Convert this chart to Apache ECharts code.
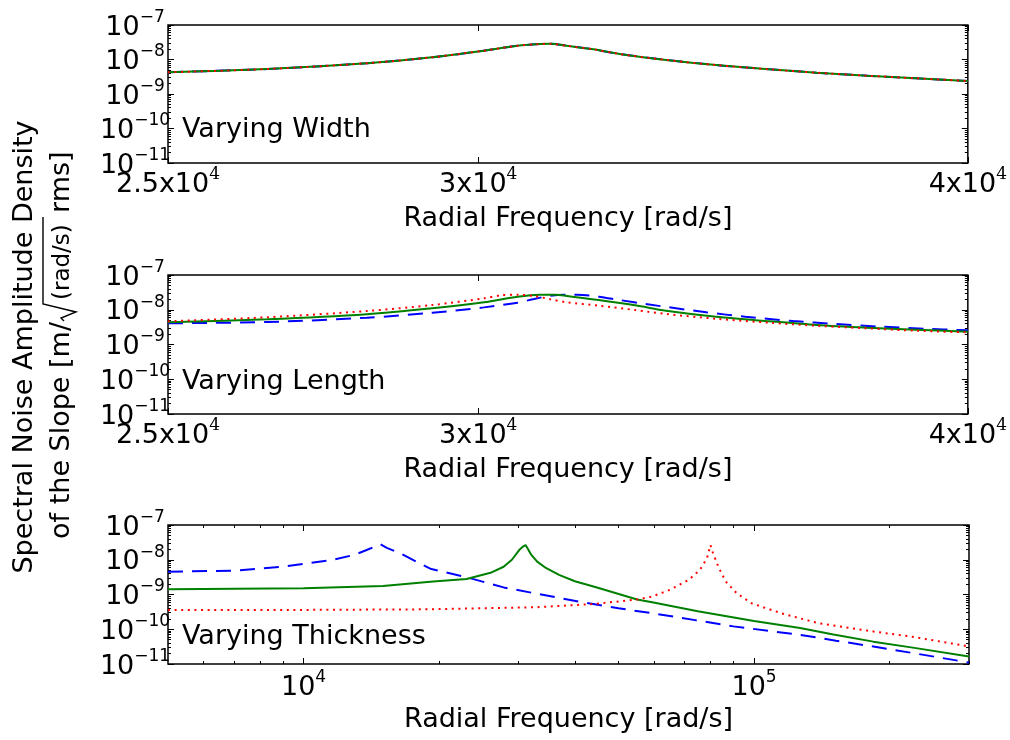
<!DOCTYPE html>
<html><head><meta charset="utf-8">
<script src="https://cdn.jsdelivr.net/npm/echarts@6/dist/echarts.min.js"></script>
<style>html,body{margin:0;padding:0;background:#fff}#c{width:1010px;height:740px}</style>
</head><body><div id="c"></div>
<script>
// ---------------- data ----------------
// Panel 1: Varying Width (three curves nearly identical)
const w_freq  = [25000, 26500, 28100, 29200, 30100, 30700, 31100, 31300, 31600, 32100, 32600, 33500, 34500, 35600, 36600, 37700, 38800, 40000];
const w_blue  = [4.26e-9, 5.3e-9, 7.8e-9, 1.16e-8, 1.8e-8, 2.5e-8, 2.8e-8, 2.85e-8, 2.5e-8, 1.97e-8, 1.44e-8, 9.7e-9, 6.9e-9, 5.2e-9, 4.14e-9, 3.4e-9, 2.85e-9, 2.38e-9];
const w_green = [4.26e-9, 5.3e-9, 7.8e-9, 1.16e-8, 1.8e-8, 2.5e-8, 2.8e-8, 2.85e-8, 2.5e-8, 1.97e-8, 1.44e-8, 9.7e-9, 6.9e-9, 5.2e-9, 4.14e-9, 3.4e-9, 2.85e-9, 2.38e-9];
const w_red   = [4.26e-9, 5.3e-9, 7.8e-9, 1.16e-8, 1.8e-8, 2.5e-8, 2.8e-8, 2.85e-8, 2.5e-8, 1.97e-8, 1.44e-8, 9.7e-9, 6.9e-9, 5.2e-9, 4.14e-9, 3.4e-9, 2.85e-9, 2.38e-9];

// Panel 2: Varying Length
const l_blue_freq  = [25000, 26500, 28100, 29200, 30100, 30700, 31000, 31300, 31600, 31800, 32200, 32600, 33100, 34300, 35100, 36100, 37000, 38000, 39000, 40000];
const l_blue       = [4.07e-9, 4.44e-9, 5.9e-9, 8.2e-9, 1.17e-8, 1.6e-8, 2.04e-8, 2.54e-8, 2.71e-8, 2.71e-8, 2.38e-8, 1.9e-8, 1.46e-8, 8.45e-9, 6.3e-9, 4.74e-9, 3.89e-9, 3.26e-9, 2.85e-9, 2.56e-9];
const l_green_freq = [25000, 26500, 28100, 29200, 30100, 30700, 31100, 31400, 31600, 32200, 32900, 33500, 34500, 35600, 36600, 37700, 38800, 40000];
const l_green      = [4.35e-9, 5.3e-9, 7.4e-9, 1.1e-8, 1.64e-8, 2.38e-8, 2.72e-8, 2.7e-8, 2.49e-8, 1.91e-8, 1.34e-8, 9.4e-9, 6.3e-9, 4.65e-9, 3.64e-9, 3.05e-9, 2.67e-9, 2.33e-9];
const l_red_freq   = [25000, 26500, 28100, 29200, 30100, 30400, 30700, 31000, 31300, 31600, 32200, 32900, 33500, 34500, 35600, 36600, 37700, 38800, 40000];
const l_red        = [4.65e-9, 6.07e-9, 9.2e-9, 1.37e-8, 2.13e-8, 2.6e-8, 2.7e-8, 2.49e-8, 2.0e-8, 1.64e-8, 1.31e-8, 9.8e-9, 7.55e-9, 5.5e-9, 4.24e-9, 3.47e-9, 2.92e-9, 2.49e-9, 2.24e-9];

// Panel 3: Varying Thickness
const t_blue_freq  = [5000, 7000, 9000, 11600, 13000, 13800, 14400, 14800, 15300, 16400, 17800, 19200, 23000, 27800, 33000, 40700, 50000, 59400, 74000, 90000, 126500, 152000, 184000, 225000, 300000];
const t_blue       = [4.55e-9, 4.86e-9, 6.34e-9, 9.87e-9, 1.4e-8, 1.91e-8, 2.4e-8, 2.8e-8, 2.2e-8, 1.53e-8, 8.8e-9, 5.4e-9, 3.14e-9, 1.6e-9, 1.05e-9, 6.25e-10, 4.0e-10, 2.9e-10, 1.83e-10, 1.21e-10, 6.9e-11, 4.7e-11, 3.18e-11, 2.07e-11, 1.1e-11];
const t_green_freq = [5000, 10000, 15000, 19400, 23000, 26000, 27800, 29000, 30100, 30700, 31100, 31500, 32000, 33000, 34500, 36900, 40000, 44600, 55000, 59400, 75000, 100000, 126500, 150000, 184000, 225000, 300000];
const t_green      = [1.42e-9, 1.51e-9, 1.77e-9, 2.35e-9, 2.8e-9, 4.2e-9, 6.3e-9, 1.0e-8, 1.9e-8, 2.4e-8, 2.66e-8, 2.0e-8, 1.4e-8, 8.8e-9, 5.8e-9, 3.66e-9, 2.4e-9, 1.62e-9, 7.2e-10, 6.0e-10, 3.3e-10, 1.73e-10, 1.08e-10, 7.1e-11, 4.4e-11, 2.96e-11, 1.64e-11];
const t_red_freq   = [5000, 10000, 19000, 33000, 44600, 55000, 59300, 65000, 71600, 75800, 78600, 80000, 81000, 83300, 86500, 91500, 98700, 114800, 138600, 184300, 222600, 300000];
const t_red        = [3.6e-10, 3.6e-10, 3.75e-10, 4.3e-10, 5.4e-10, 7.2e-10, 8.7e-10, 1.36e-9, 2.63e-9, 5.1e-9, 1.1e-8, 2.66e-8, 1.6e-8, 6.3e-9, 2.36e-9, 1.09e-9, 5.6e-10, 2.9e-10, 1.5e-10, 8.6e-11, 6.2e-11, 3.2e-11];

// Ticks and labels
const yTickValues = [1e-11, 1e-10, 1e-9, 1e-8, 1e-7];
const yTickLabels = ['10^\u221211', '10^\u221210', '10^\u22129', '10^\u22128', '10^\u22127'];
const xTopTickValues = [25000, 30000, 40000];
const xTopTickLabels = ['2.5x10^4', '3x10^4', '4x10^4'];
const xBotTickValues = [10000, 100000];
const xBotTickLabels = ['10^4', '10^5'];
const xBotMinor = [6000, 7000, 8000, 9000, 20000, 30000, 40000, 50000, 60000, 70000, 80000, 90000, 200000, 300000];
const yMinor = [];
[-11, -10, -9, -8].forEach(e => { for (let m = 2; m <= 9; m++) yMinor.push(m * Math.pow(10, e)); });

const panelTitles = ['Varying Width', 'Varying Length', 'Varying Thickness'];
const xName = 'Radial Frequency [rad/s]';

// ---------------- layout / style ----------------
const FONT = 'DejaVu Sans';
const BLACK = '#000';
const FS = 27;
const gridsPos = [{top: 25, height: 138}, {top: 275, height: 139}, {top: 525, height: 139}];
const LEFT = 168, WIDTH = 801;

// keep edge ticks inside the floating-point extent
function nudge(vals, lo, hi) {
  return vals.map(v => v <= lo * 1.000001 ? lo * (1 + 1e-9) : (v >= hi * 0.999999 ? hi * (1 - 1e-9) : v));
}
function richLabel(s, supKey) {
  const i = s.indexOf('^');
  if (i < 0) return '{b|' + s + '}';
  return '{b|' + s.slice(0, i) + '}{' + supKey + '|' + s.slice(i + 1) + '}';
}
function labelFor(values, labels, supKey) {
  return function (v) {
    let best = 0, bd = Infinity;
    values.forEach((t, k) => { const d = Math.abs(Math.log10(t) - Math.log10(v)); if (d < bd) { bd = d; best = k; } });
    return richLabel(labels[best], supKey);
  };
}
const richStyles = {
  b:   {fontFamily: FONT, fontSize: FS, lineHeight: 32, color: BLACK, verticalAlign: 'bottom'},
  sup: {fontFamily: FONT, fontSize: 17, lineHeight: 17, color: BLACK, verticalAlign: 'top'},
  sups:{fontFamily: 'DejaVu Serif', fontSize: 17, lineHeight: 17, color: BLACK, verticalAlign: 'top'}
};

const grid = gridsPos.map(g => ({left: LEFT, width: WIDTH, top: g.top, height: g.height, show: true, borderColor: BLACK, borderWidth: 1.5, backgroundColor: 'transparent'}));

const xAxis = [], yAxis = [];
function baseAxis(gi, min, max, position, ticks, len, labelCfg) {
  return {
    type: 'log', logBase: 10, gridIndex: gi, min: min, max: max, position: position,
    axisLine: {show: false},
    axisTick: ticks && ticks.length ? {show: true, inside: true, length: len, customValues: nudge(ticks, min, max), lineStyle: {color: BLACK, width: 1}} : {show: false},
    minorTick: {show: false},
    splitLine: {show: false},
    axisLabel: labelCfg || {show: false},
    axisPointer: {show: false}
  };
}
for (let gi = 0; gi < 3; gi++) {
  const isBot = gi === 2;
  const xmin = isBot ? 5000 : 25000, xmax = isBot ? 300000 : 40000;
  const xMajor = isBot ? xBotTickValues : xTopTickValues;
  const xLabels = isBot ? xBotTickLabels : xTopTickLabels;
  const xMin = isBot ? xBotMinor : [];
  const mainX = baseAxis(gi, xmin, xmax, 'bottom', xMajor, 6, {
    show: true, customValues: nudge(xMajor, xmin, xmax), margin: isBot ? 5 : 3,
    showMinLabel: true, showMaxLabel: true, hideOverlap: false,
    formatter: labelFor(xMajor, xLabels, isBot ? 'sup' : 'sups'), rich: richStyles
  });
  mainX.name = xName; mainX.nameLocation = 'middle'; mainX.nameGap = 41;
  mainX.nameTextStyle = {fontFamily: FONT, fontSize: FS, color: BLACK, lineHeight: 30};
  xAxis.push(mainX);
  xAxis.push(baseAxis(gi, xmin, xmax, 'bottom', xMin, 3));
  xAxis.push(baseAxis(gi, xmin, xmax, 'top', xMajor, 6));
  xAxis.push(baseAxis(gi, xmin, xmax, 'top', xMin, 3));

  yAxis.push(baseAxis(gi, 1e-11, 1e-7, 'left', yTickValues, 6, {
    show: true, customValues: nudge(yTickValues, 1e-11, 1e-7), margin: 33, align: 'center',
    showMinLabel: true, showMaxLabel: true, hideOverlap: false,
    formatter: labelFor(yTickValues, yTickLabels, 'sup'), rich: richStyles
  }));
  yAxis.push(baseAxis(gi, 1e-11, 1e-7, 'left', yMinor, 3));
  yAxis.push(baseAxis(gi, 1e-11, 1e-7, 'right', yTickValues, 6));
  yAxis.push(baseAxis(gi, 1e-11, 1e-7, 'right', yMinor, 3));
}

function pairs(xs, ys) { return xs.map((x, i) => [x, ys[i]]); }
const BLUE = '#0000ff', GREEN = '#008000', RED = '#ff0000';
function mk(gi, xs, ys, color, kind, smooth) {
  const ls = {color: color, width: 2};
  if (kind === 'dash') { ls.type = [15, 9]; }
  if (kind === 'dot') { ls.type = [2, 4.6]; }
  return {type: 'line', xAxisIndex: gi * 4, yAxisIndex: gi * 4, data: pairs(xs, ys),
    showSymbol: false, symbol: 'none', smooth: smooth, lineStyle: ls, itemStyle: {color: color},
    silent: true, animation: false, clip: true};
}
const series = [
  mk(0, w_freq, w_blue, BLUE, 'dash', 0.3),
  mk(0, w_freq, w_green, GREEN, 'solid', 0.3),
  mk(0, w_freq, w_red, RED, 'dot', 0.3),
  mk(1, l_blue_freq, l_blue, BLUE, 'dash', 0.3),
  mk(1, l_green_freq, l_green, GREEN, 'solid', 0.3),
  mk(1, l_red_freq, l_red, RED, 'dot', 0.3),
  mk(2, t_blue_freq, t_blue, BLUE, 'dash', false),
  mk(2, t_green_freq, t_green, GREEN, 'solid', false),
  mk(2, t_red_freq, t_red, RED, 'dot', false)
];

const titleY = [130, 382, 637];
const graphic = panelTitles.map((t, i) => ({
  type: 'text', x: 182, y: titleY[i], z: 100,
  style: {text: t, font: FS + 'px "DejaVu Sans"', fill: BLACK, align: 'left', verticalAlign: 'middle'}
}));
// y-axis title, line 1
graphic.push({type: 'text', x: 25, y: 347, rotation: Math.PI / 2, z: 100,
  style: {text: 'Spectral Noise Amplitude Density', font: FS + 'px "DejaVu Sans"', fill: BLACK, align: 'center', verticalAlign: 'middle'}});
// y-axis title, line 2 in pieces (with a drawn square-root sign)
graphic.push({type: 'text', x: 62, y: 322, rotation: Math.PI / 2, z: 100,
  style: {text: 'of the Slope [m/', font: FS + 'px "DejaVu Sans"', fill: BLACK, align: 'right', verticalAlign: 'middle'}});
graphic.push({type: 'text', x: 63.5, y: 300, rotation: Math.PI / 2, z: 100,
  style: {text: '(rad/s)', font: '23px "DejaVu Sans"', fill: BLACK, align: 'left', verticalAlign: 'middle'}});
graphic.push({type: 'text', x: 62, y: 213, rotation: Math.PI / 2, z: 100,
  style: {text: 'rms]', font: FS + 'px "DejaVu Sans"', fill: BLACK, align: 'left', verticalAlign: 'middle'}});
graphic.push({type: 'polyline', z: 100,
  shape: {points: [[64, 321], [61, 318], [76, 312], [43, 304], [43, 217]]},
  style: {stroke: BLACK, lineWidth: 1.4, fill: null}});

const chart = echarts.init(document.getElementById('c'), null, {renderer: 'canvas'});
chart.setOption({
  animation: false,
  backgroundColor: '#fff',
  grid: grid, xAxis: xAxis, yAxis: yAxis, series: series, graphic: graphic
});
</script></body></html>
